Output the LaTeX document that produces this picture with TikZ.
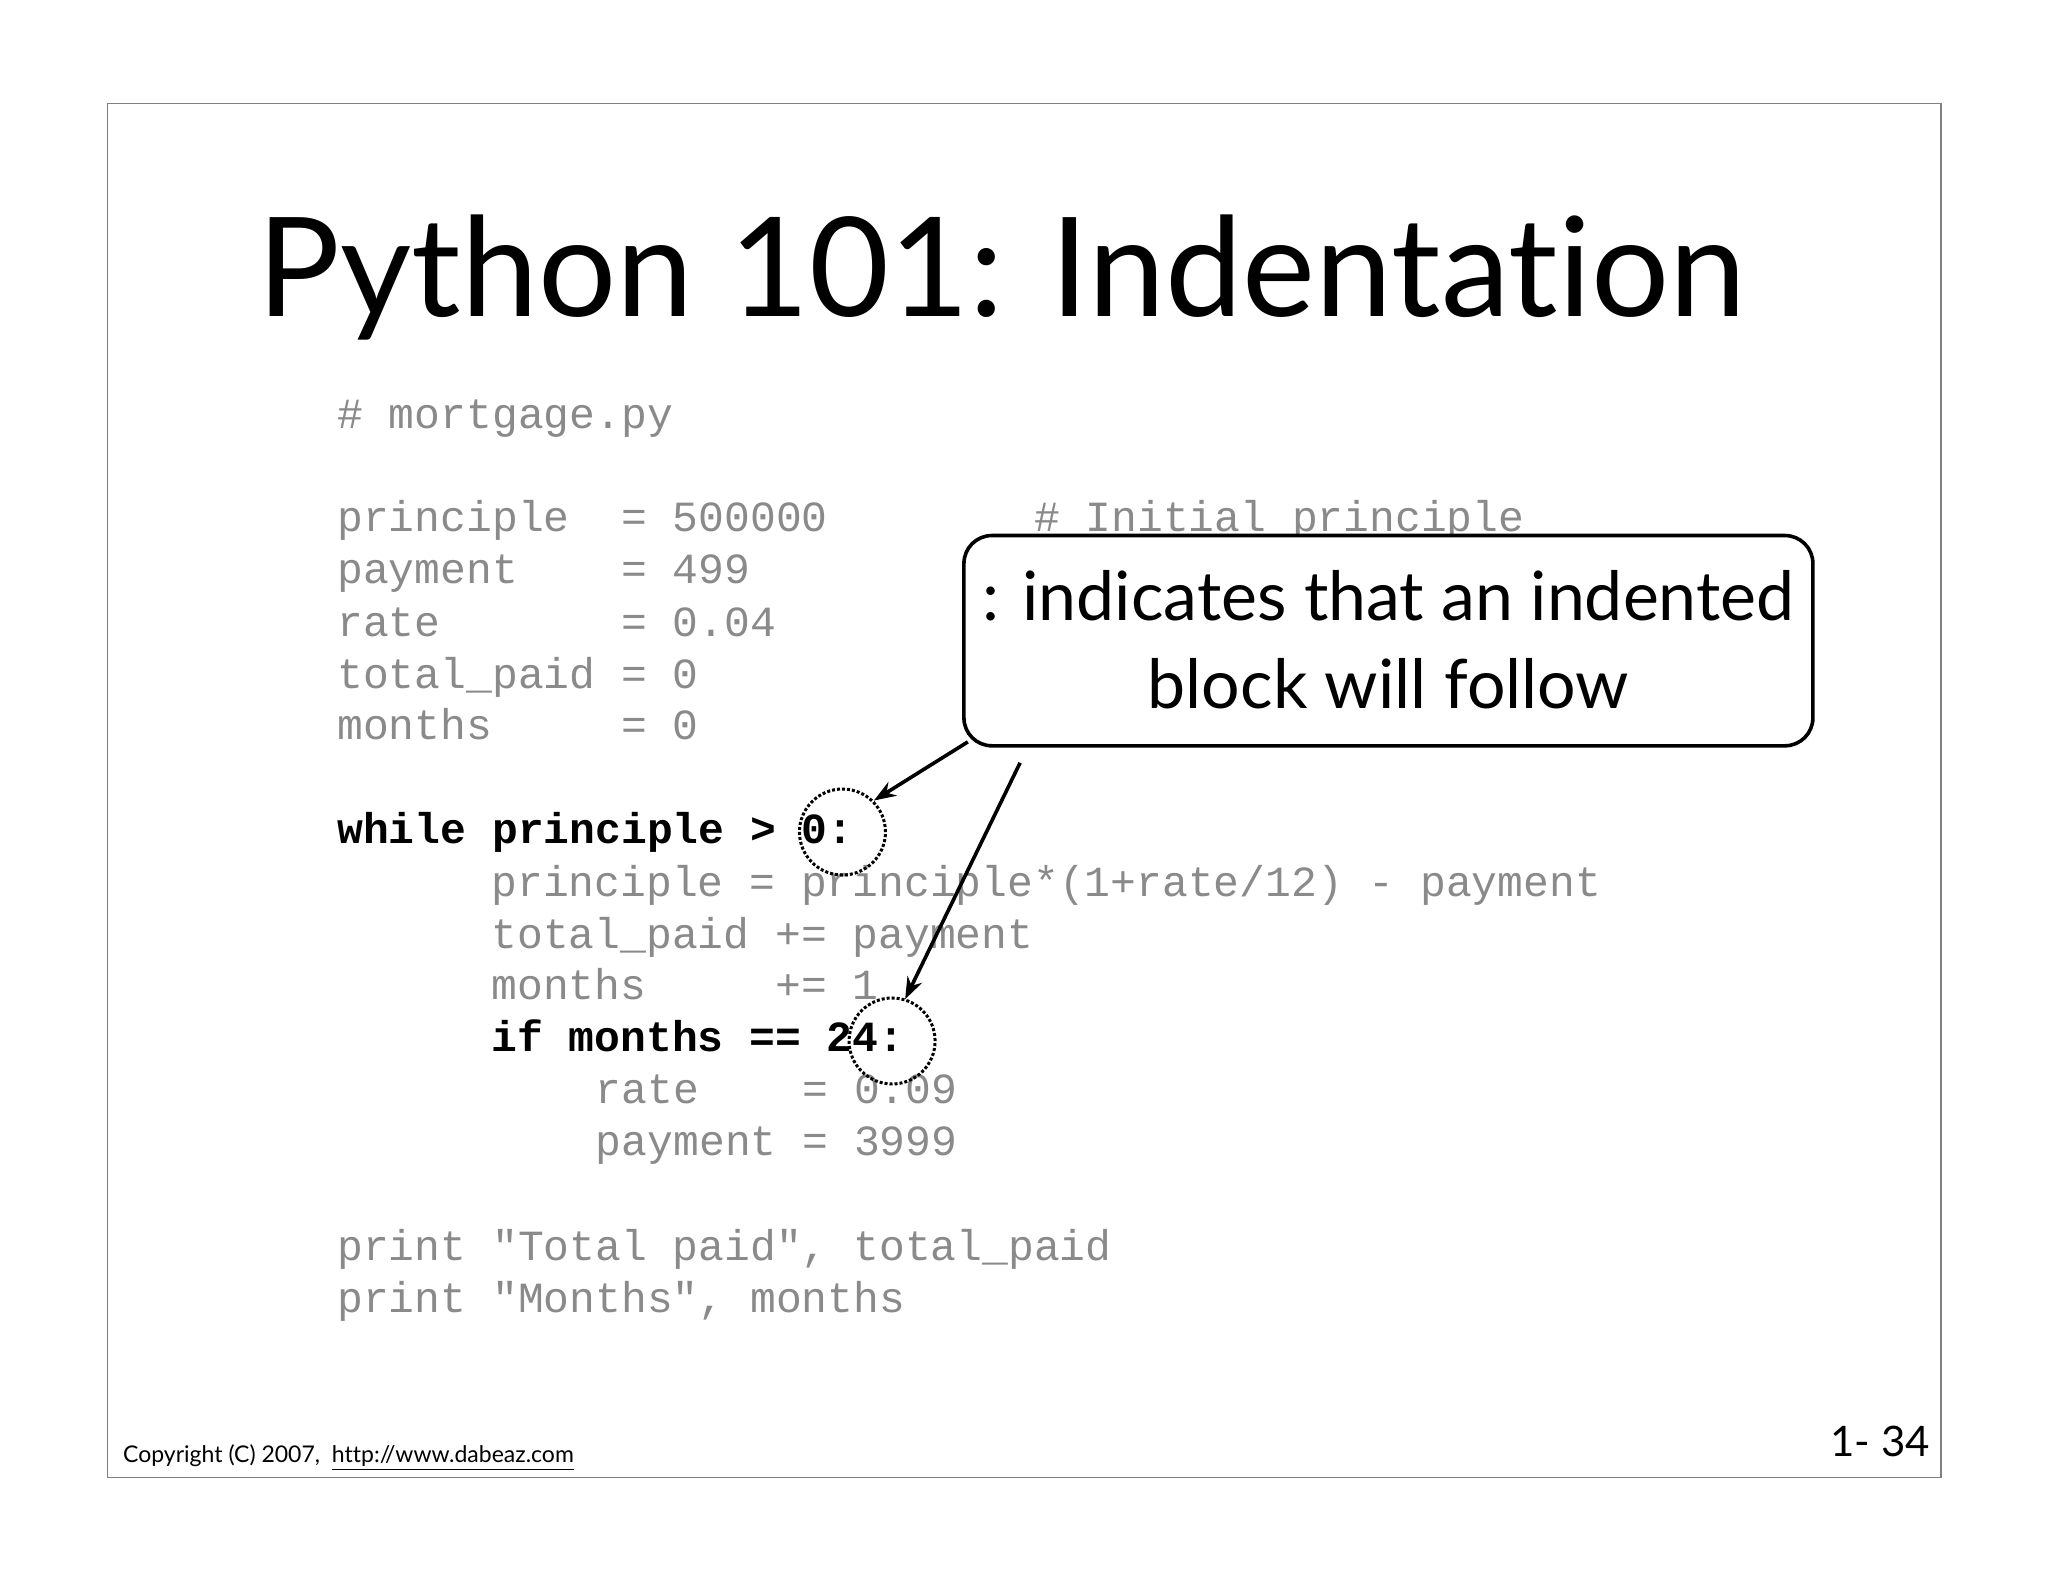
\documentclass[tikz,border=0pt]{standalone}
\usepackage{fontspec}
\setmainfont{Lato}[Ligatures={NoCommon}]
\setmonofont{Liberation Mono}
\usetikzlibrary{arrows.meta}
\definecolor{codegray}{HTML}{8A8A8A}
\tikzset{code/.style={anchor=base west,inner sep=0pt,font=\fontsize{21.5}{26}\ttfamily,text=codegray},
 bold/.style={code,text=black,font=\fontsize{21.5}{26}\ttfamily\bfseries},
 dotcirc/.style={draw,densely dotted,line width=1.5pt,circle,minimum size=43pt,inner sep=0pt},
 arr/.style={-{Stealth[length=11pt,width=8pt]},line width=1.8pt}}
\begin{document}
\begin{tikzpicture}[x=0.653pt,y=-0.653pt]
\useasboundingbox (0,0) rectangle (1568,1211);
\fill[white] (0,0) rectangle (1568,1211);
\draw[gray,line width=0.6pt] (82,79) rectangle (1486,1131);
\node[anchor=base west,inner sep=0pt,font=\fontsize{69}{75}\selectfont] (title) at (197,242) {Python 101: Indentation};
\node[code] (l1) at (258,328) {\# mortgage.py};
\node[code] (l2) at (258,407) {principle\ \ = 500000\ \ \ \ \ \ \ \ \# Initial principle};
\node[code] (l3) at (258,447) {payment\ \ \ \ = 499};
\node[code] (l4) at (258,487) {rate\ \ \ \ \ \ \ = 0.04};
\node[code] (l5) at (258,527) {total\_paid = 0};
\node[code] (l6) at (258,566) {months\ \ \ \ \ = 0};
\node[bold] (l7) at (258,646) {while principle > 0:};
\node[code] (l8) at (376,686) {principle = principle*(1+rate/12) - payment};
\node[code] (l9) at (376,726) {total\_paid += payment};
\node[code] (l10) at (376,765) {months\ \ \ \ \ += 1};
\node[bold] (l11) at (376,805) {if months == 24:};
\node[code] (l12) at (456,845) {rate\ \ \ \ = 0.09};
\node[code] (l13) at (456,885) {payment = 3999};
\node[code] (l14) at (258,965) {print "Total paid", total\_paid};
\node[code] (l15) at (258,1005) {print "Months", months};
\node[dotcirc] (c1) at (645,637) {};
\node[dotcirc] (c2) at (683,797) {};
\draw[line width=1.8pt,fill=white,rounded corners=14pt] (738,410) rectangle (1388,571);
\node[align=center,inner sep=0pt,font=\fontsize{34}{44}\selectfont] (call) at (1063,490) {: indicates that an indented\\block will follow};
\coordinate (s1) at (741,568);
\coordinate (s2) at (781,584);
\draw[arr] (s1) -- (c1.north east);
\draw[arr] (s2) -- (693,765);
\node[anchor=base west,inner sep=0pt,font=\fontsize{11.5}{13}\selectfont] (copy) at (94,1120) {Copyright (C) 2007,\ \ \underline{http://www.dabeaz.com}};
\node[anchor=base east,inner sep=0pt,font=\fontsize{21}{26}\selectfont] (pg) at (1478,1115) {1- 34};
\end{tikzpicture}
\end{document}
